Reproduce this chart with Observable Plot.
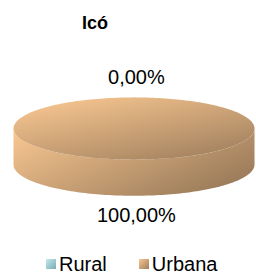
<!DOCTYPE html>
<html>
<head>
<meta charset="utf-8">
<script src="https://cdn.jsdelivr.net/npm/d3@7"></script>
<script src="https://cdn.jsdelivr.net/npm/@observablehq/plot@0.6"></script>
<style>
  html, body { margin: 0; padding: 0; background: #fff; }
  #wrap { position: relative; width: 256px; height: 277px; font-family: "Liberation Sans", Arial, sans-serif; }
  #title { position: absolute; left: 82px; top: 13px; font-size: 18px; font-weight: bold; color: #000; }
  #legend { position: absolute; left: 46px; top: 254px; display: flex; gap: 32px; font-size: 20px; line-height: 20px; color: #000; }
  .item { display: flex; align-items: center; gap: 3px; }
  .sw { width: 10px; height: 10px; }
</style>
</head>
<body>
<div id="wrap">
  <div id="chart"></div>
  <div id="title"></div>
  <div id="legend"></div>
</div>
<script>
const title = "Icó";
const categories = ["Rural", "Urbana"];
const values = [0, 100];
const valueLabels = ["0,00%", "100,00%"];
const colorsLight = ["#C4E9EC", "#FAC892"];
const colorsDark = ["#78ACB2", "#9E7E5C"];

// geometry (in x-units where the pie radius is 1)
const RY = 31 / 120.5;      // vertical radius of tilted top face
const DEPTH = 36 / 120.5;   // thickness
const LABEL_R = 51 / 120.5; // label distance (vertical)

const pie = d3.pie().sort(null).startAngle(0).endAngle(2 * Math.PI)(values);

function arcPts(a0, a1, dy) {
  const n = Math.max(2, Math.ceil((a1 - a0) / (2 * Math.PI) * 240));
  return d3.range(n + 1).map(k => {
    const a = a0 + (a1 - a0) * k / n;
    return {x: Math.sin(a), y: RY * Math.cos(a) + dy};
  });
}

const marks = [];
// sides (front part only)
pie.forEach((s, i) => {
  if (s.value <= 0) return;
  const a0 = Math.max(s.startAngle, Math.PI / 2), a1 = Math.min(s.endAngle, 3 * Math.PI / 2);
  if (a1 <= a0) return;
  const pts = arcPts(a0, a1, 0).concat(arcPts(a0, a1, -DEPTH).reverse());
  marks.push(Plot.line(pts, {x: "x", y: "y", fill: `url(#side${i})`, stroke: "none"}));
});
// tops
pie.forEach((s, i) => {
  if (s.value <= 0) return;
  let pts = arcPts(s.startAngle, s.endAngle, 0);
  if (s.endAngle - s.startAngle < 2 * Math.PI - 1e-6) pts = [{x: 0, y: 0}, ...pts];
  marks.push(Plot.line(pts, {x: "x", y: "y", fill: `url(#top${i})`, stroke: "none"}));
});
// labels
const labelData = pie.map((s, i) => {
  const m = (s.startAngle + s.endAngle) / 2;
  const c = Math.cos(m);
  return {x: Math.sin(m) * 0.6 + 0.02, y: c * LABEL_R + (c < 0 ? -DEPTH : 0), text: valueLabels[i]};
});
marks.push(Plot.text(labelData, {x: "x", y: "y", text: "text", fontSize: 20, fill: "#000"}));

const svg = Plot.plot({
  width: 256, height: 277, margin: 0,
  x: {domain: [-1, 1], range: [13, 254], axis: null},
  y: {domain: [-1, 1], range: [249, 7], axis: null},
  style: {fontFamily: "'Liberation Sans', Arial, sans-serif", background: "transparent"},
  marks
});

const defs = d3.select(svg).insert("defs", ":first-child");
categories.forEach((c, i) => {
  const t = defs.append("linearGradient").attr("id", `top${i}`).attr("x1", 0.1).attr("y1", 0).attr("x2", 0.9).attr("y2", 1);
  t.append("stop").attr("offset", 0).attr("stop-color", colorsLight[i]);
  t.append("stop").attr("offset", 1).attr("stop-color", colorsDark[i]);
  const sd = defs.append("linearGradient").attr("id", `side${i}`).attr("x1", 0).attr("y1", 0).attr("x2", 1).attr("y2", 0.6);
  sd.append("stop").attr("offset", 0).attr("stop-color", colorsLight[i]);
  sd.append("stop").attr("offset", 1).attr("stop-color", colorsDark[i]);
});
document.getElementById("chart").appendChild(svg);
document.getElementById("title").textContent = title;

const legend = d3.select("#legend");
categories.forEach((c, i) => {
  const it = legend.append("div").attr("class", "item");
  it.append("div").attr("class", "sw").style("background", `linear-gradient(135deg, ${colorsLight[i]}, ${colorsDark[i]})`);
  it.append("span").text(c);
});
</script>
</body>
</html>
